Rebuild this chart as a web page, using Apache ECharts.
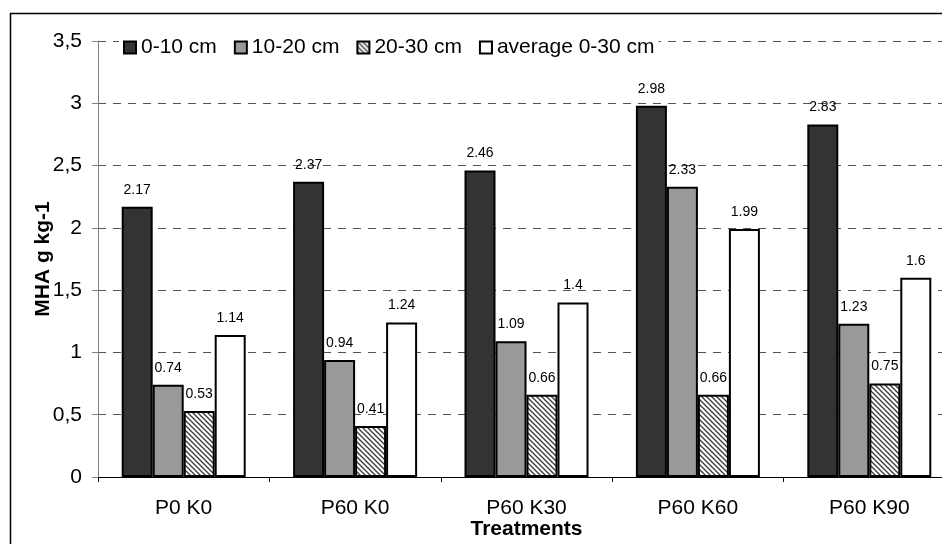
<!DOCTYPE html>
<html>
<head>
<meta charset="utf-8">
<script src="https://cdn.jsdelivr.net/npm/echarts@6/dist/echarts.min.js"></script>
<style>
html,body{margin:0;padding:0;background:#fff;}
#chart{width:942px;height:544px;}
</style>
</head>
<body>
<div id="chart"></div>
<script>
const categories = ['P0 K0', 'P60 K0', 'P60 K30', 'P60 K60', 'P60 K90'];
const seriesNames = ['0-10 cm', '10-20 cm', '20-30 cm', 'average 0-30 cm'];
const depth0_10 = [2.17, 2.37, 2.46, 2.98, 2.83];
const depth10_20 = [0.74, 0.94, 1.09, 2.33, 1.23];
const depth20_30 = [0.53, 0.41, 0.66, 0.66, 0.75];
const average0_30 = [1.14, 1.24, 1.4, 1.99, 1.6];
const yTicks = [0, 0.5, 1, 1.5, 2, 2.5, 3, 3.5];

function hatch() {
  const s = 5;
  const c = document.createElement('canvas');
  c.width = s; c.height = s;
  const ctx = c.getContext('2d');
  ctx.fillStyle = '#ffffff';
  ctx.fillRect(0, 0, s, s);
  ctx.strokeStyle = '#3a3a3a';
  ctx.lineWidth = 1.3;
  [-s, 0, s].forEach(function (o) {
    ctx.beginPath();
    ctx.moveTo(-1, o - 1);
    ctx.lineTo(s + 1, o + s + 1);
    ctx.stroke();
  });
  return c;
}

const fills = ['#333333', '#999999', { image: hatch(), repeat: 'repeat' }, '#ffffff'];
const dataSets = [depth0_10, depth10_20, depth20_30, average0_30];
const FONT = 'Liberation Sans, Arial, sans-serif';

const chart = echarts.init(document.getElementById('chart'), null, { renderer: 'canvas' });
chart.setOption({
  animation: false,
  backgroundColor: '#ffffff',
  textStyle: { fontFamily: FONT },
  grid: { left: 98, width: 857, top: 41, height: 436, containLabel: false, outerBoundsMode: 'none' },
  legend: {
    left: 119, top: 35, padding: [2, 4],
    backgroundColor: '#ffffff',
    icon: 'rect',
    itemWidth: 12, itemHeight: 12, itemGap: 17,
    textStyle: { fontSize: 21, color: '#000', fontFamily: FONT },
    data: seriesNames
  },
  xAxis: {
    type: 'category',
    data: categories,
    name: 'Treatments',
    nameLocation: 'middle',
    nameGap: 42,
    nameMoveOverlap: false,
    nameTextStyle: { fontSize: 21, fontWeight: 'bold', color: '#000', fontFamily: FONT },
    axisLine: { lineStyle: { color: '#000', width: 1 } },
    axisTick: { show: true, length: 5, lineStyle: { color: '#000' } },
    axisLabel: { fontSize: 21, color: '#000', margin: 21, fontFamily: FONT },
    splitLine: { show: false }
  },
  yAxis: {
    type: 'value',
    min: 0, max: 3.5, interval: 0.5,
    name: 'MHA g kg-1',
    nameLocation: 'middle',
    nameGap: 44,
    nameMoveOverlap: false,
    nameTextStyle: { fontSize: 21, fontWeight: 'bold', color: '#000', fontFamily: FONT },
    axisLine: { show: true, lineStyle: { color: '#808080', width: 1 } },
    axisTick: { show: true, length: 6, lineStyle: { color: '#808080' } },
    axisLabel: {
      fontSize: 21, color: '#000', margin: 16, fontFamily: FONT,
      formatter: function (v) { return yTicks.indexOf(v) >= 0 ? String(v).replace('.', ',') : ''; }
    },
    splitLine: { show: true, lineStyle: { color: '#555', type: [8, 7], width: 1 } }
  },
  graphic: [
    { type: 'rect', left: 8, top: 11, shape: { width: 1000, height: 600 }, style: { fill: 'none', stroke: '#000', lineWidth: 1.5 }, z: 100, silent: true }
  ],
  series: dataSets.map(function (d, i) {
    return {
      name: seriesNames[i],
      type: 'bar',
      data: d,
      barWidth: 31,
      barGap: '0%',
      itemStyle: { color: fills[i], borderColor: '#000', borderWidth: 2 },
      label: {
        show: true, position: 'top', distance: 10,
        fontSize: 14, color: '#000', fontFamily: FONT,
        formatter: function (p) { return String(p.value); }
      }
    };
  })
});
</script>
</body>
</html>
